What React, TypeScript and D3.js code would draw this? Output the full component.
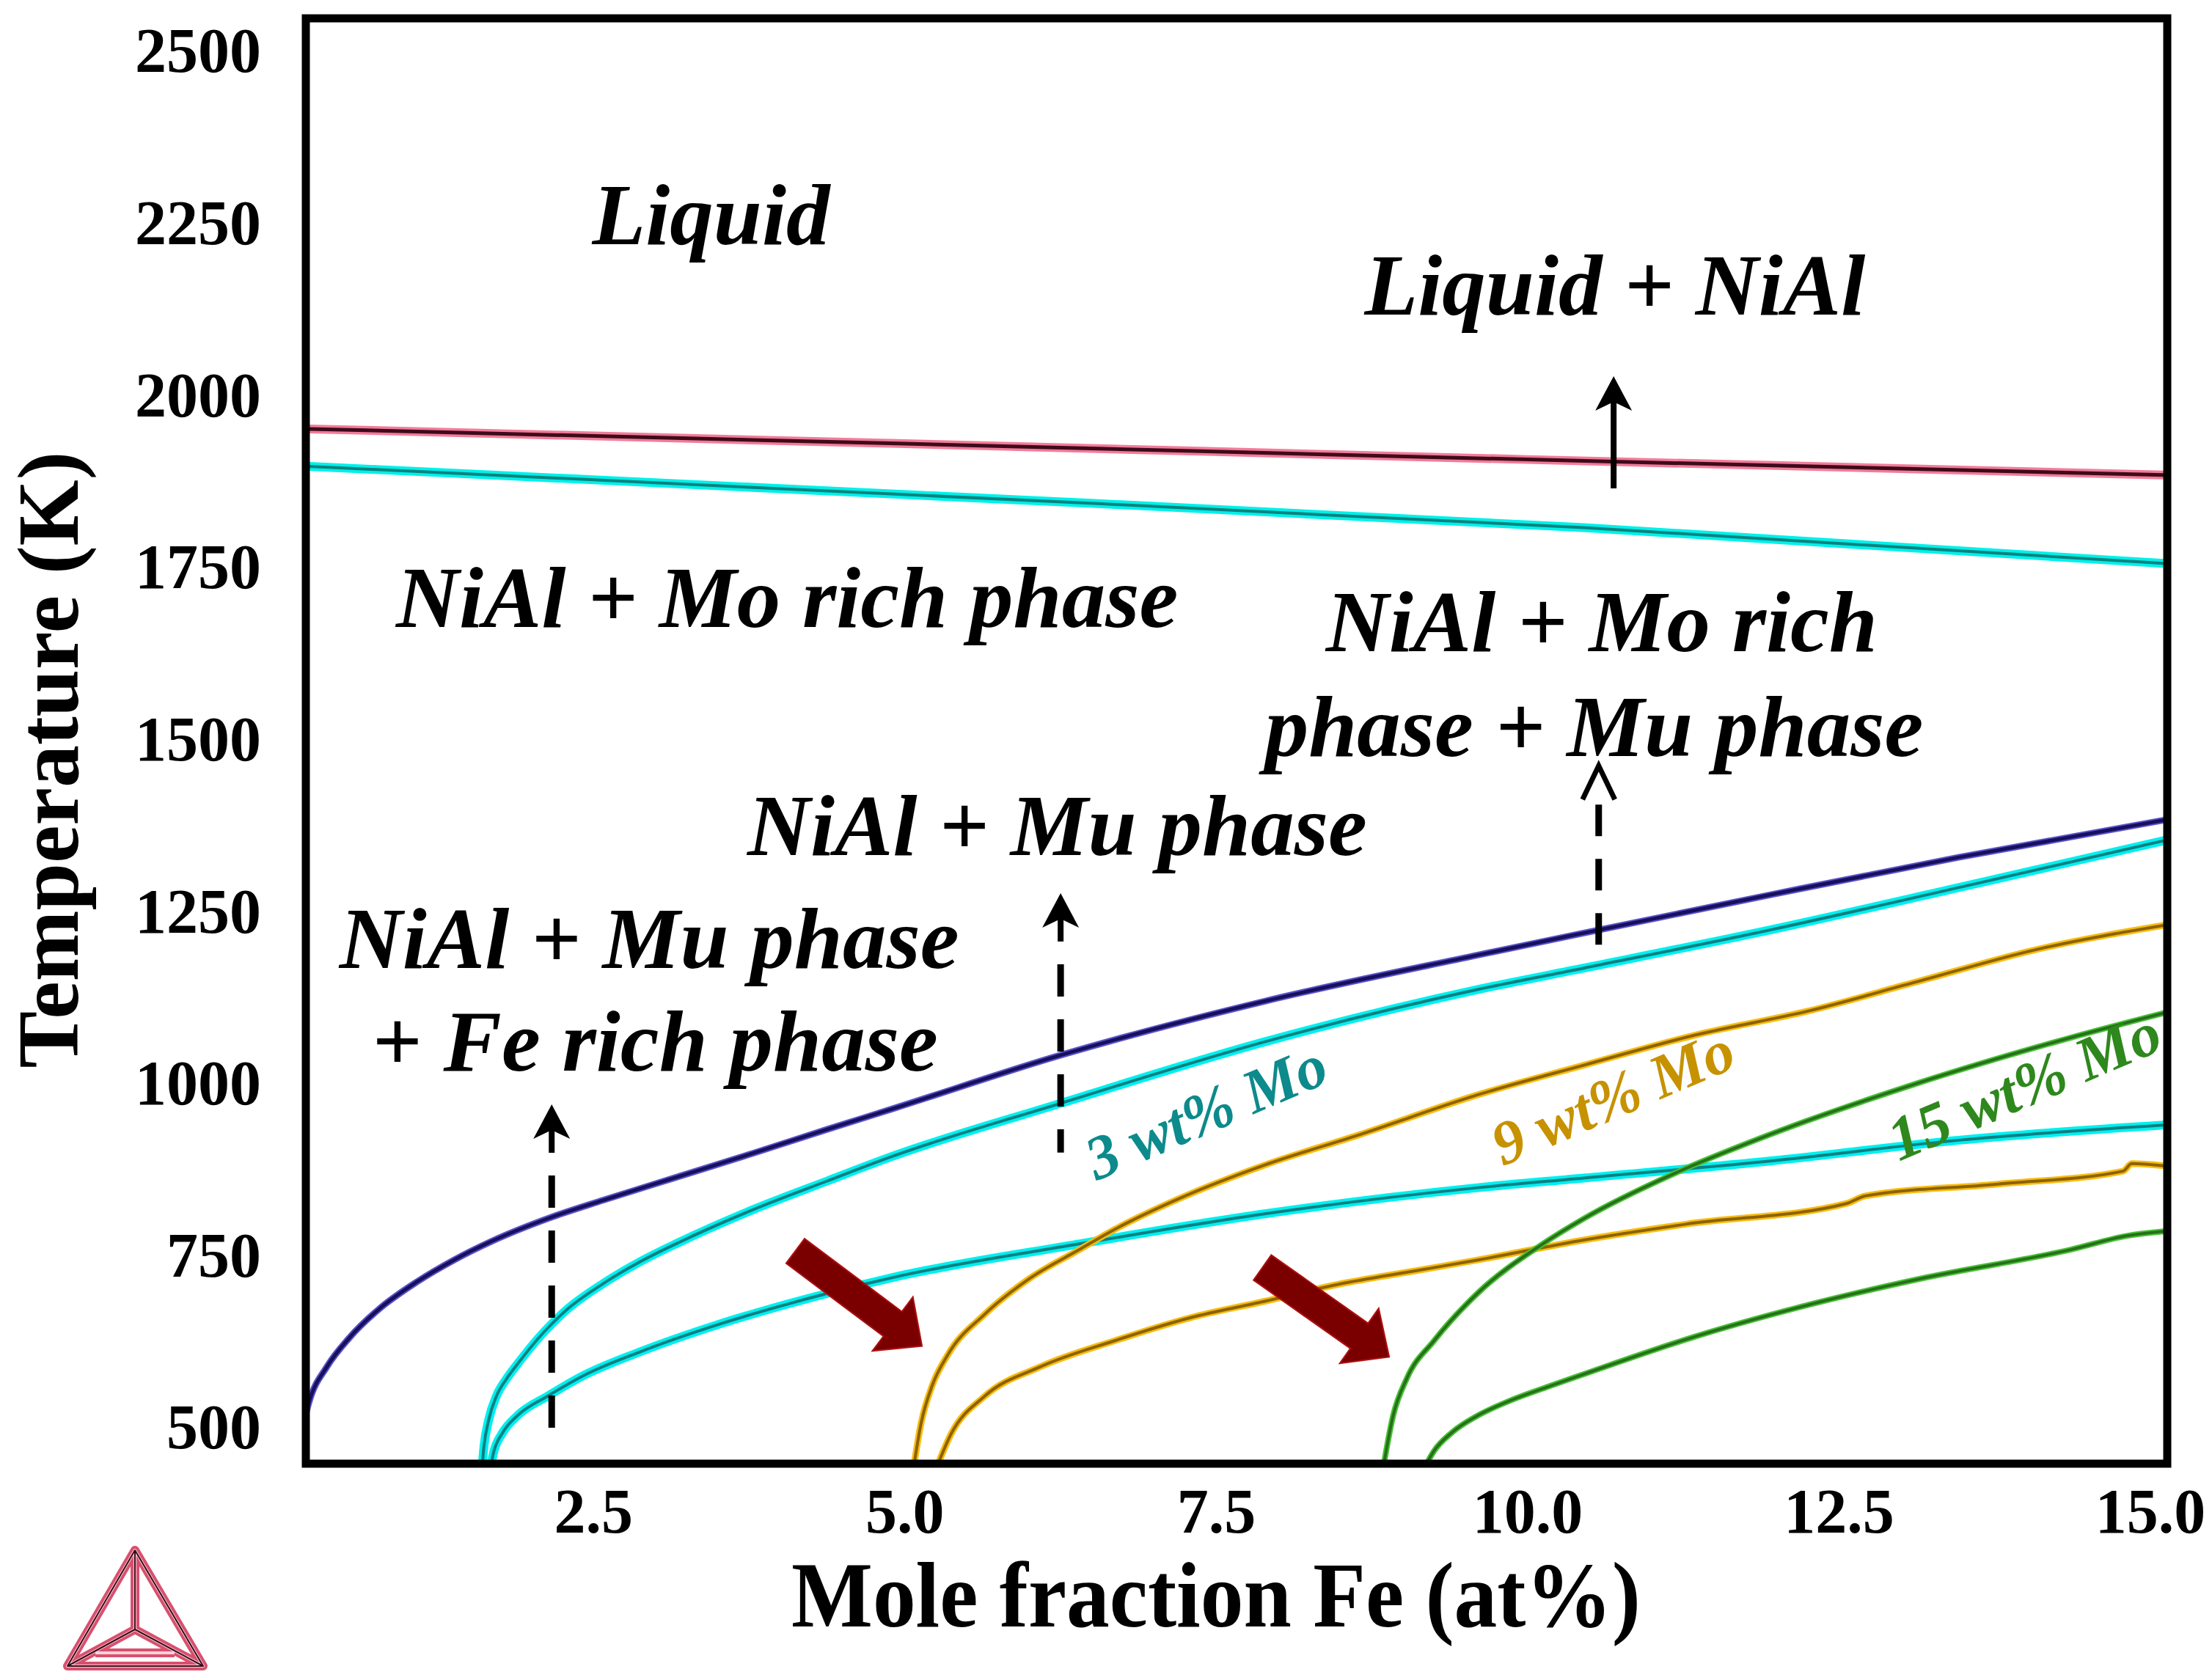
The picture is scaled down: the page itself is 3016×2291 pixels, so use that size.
import React from 'react';
import * as d3 from 'd3';

const W = 3016;
const H = 2291;

// axis setup
const xDomain = [0.19, 15.135];
const yDomain = [447, 2547];
const xTicks = [2.5, 5.0, 7.5, 10.0, 12.5, 15.0];
const yTicks = [500, 750, 1000, 1250, 1500, 1750, 2000, 2250, 2500];

// phase boundaries, [mole fraction Fe (at%), T (K)]
const liquidus = [[0.1, 1951], [5, 1929], [10, 1906], [15.2, 1883]];
const liquidus3Mo = [[0.1, 1897], [4.89, 1856], [10.45, 1807], [15.2, 1754]];
const muSolvus = [
  [0.17, 505], [0.22, 539], [0.36, 588], [0.54, 630], [0.78, 672], [1.08, 711],
  [1.38, 743], [1.68, 770], [2.16, 805], [2.58, 830], [3.18, 864], [3.78, 898],
  [4.38, 933], [4.89, 962], [6.24, 1040], [7.89, 1119], [9.6, 1186], [10.45, 1218],
  [11.96, 1274], [13.46, 1328], [15.2, 1385]
];
const mo3Upper = [
  [1.6, 430], [1.62, 472], [1.66, 512], [1.72, 545], [1.8, 570], [1.89, 592],
  [2.1, 638], [2.28, 670], [2.58, 709], [2.88, 741], [3.18, 768], [3.78, 816],
  [4.38, 858], [4.89, 893], [6.24, 970], [7.89, 1060], [9.6, 1136], [10.45, 1167],
  [11.96, 1223], [13.46, 1284], [15.2, 1356]
];
const mo3Lower = [
  [1.66, 430], [1.7, 465], [1.77, 492], [1.89, 517], [2.13, 545], [2.43, 576],
  [2.88, 610], [3.48, 648], [4.08, 680], [4.68, 708], [4.89, 717], [6.39, 766],
  [7.89, 810], [9.6, 848], [10.45, 862], [11.96, 887], [13.46, 917], [15.2, 940]
];
const mo9Upper = [
  [5.06, 430], [5.13, 506], [5.22, 561], [5.34, 604], [5.64, 664], [6.0, 716],
  [6.39, 757], [6.69, 788], [7.2, 832], [7.89, 881], [8.65, 925], [9.6, 983],
  [10.45, 1026], [11.35, 1070], [12.26, 1105], [13.1, 1146], [14.06, 1193], [15.2, 1232]
];
const mo9Lower = [
  [5.23, 430], [5.37, 490], [5.64, 545], [6.09, 588], [6.69, 626], [7.29, 659],
  [7.89, 683], [8.49, 708], [9.09, 727], [9.6, 743], [10.45, 772], [11.27, 795],
  [12.56, 825], [12.71, 836], [13.76, 853], [14.78, 872], [14.85, 883], [15.2, 878]
];
const mo15Upper = [
  [8.83, 430], [8.92, 517], [9.03, 571], [9.25, 626], [9.6, 695], [10.11, 765],
  [10.45, 803], [11.17, 868], [11.87, 920], [13.1, 998], [14.36, 1066], [15.2, 1106]
];
const mo15Lower = [
  [9.14, 430], [9.25, 466], [9.39, 492], [9.6, 517], [9.85, 538], [10.15, 558],
  [10.45, 577], [11.35, 632], [12.26, 678], [13.16, 716], [14.36, 758],
  [14.81, 778], [15.2, 786]
];

const series = [
  { data: liquidus, halo: '#f27c98', core: '#3e0a1c', hw: 12, cw: 5 },
  { data: liquidus3Mo, halo: '#00f0ea', core: '#08827e', hw: 12, cw: 4 },
  { data: muSolvus, halo: '#5a52c8', core: '#16105e', hw: 9, cw: 5 },
  { data: mo3Upper, halo: '#00efef', core: '#0a7f82', hw: 12, cw: 4 },
  { data: mo3Lower, halo: '#00efef', core: '#0a7f82', hw: 12, cw: 4 },
  { data: mo9Upper, halo: '#f6bd10', core: '#8e6200', hw: 9, cw: 4 },
  { data: mo9Lower, halo: '#f6bd10', core: '#8e6200', hw: 9, cw: 4 },
  { data: mo15Upper, halo: '#48c236', core: '#27701a', hw: 8, cw: 4 },
  { data: mo15Lower, halo: '#48c236', core: '#27701a', hw: 8, cw: 4 }
];

// region labels (left edge of baseline, data units)
const regionLabels = [
  { text: 'Liquid', x: 2.49, t: 2219 },
  { text: 'Liquid + NiAl', x: 8.69, t: 2117 },
  { text: 'NiAl + Mo rich phase', x: 0.915, t: 1663 },
  { text: 'NiAl + Mo rich', x: 8.38, t: 1627 },
  { text: 'phase + Mu phase', x: 7.89, t: 1475 },
  { text: 'NiAl + Mu phase', x: 3.735, t: 1331 },
  { text: 'NiAl + Mu phase', x: 0.46, t: 1167 },
  { text: '+ Fe rich phase', x: 0.72, t: 1018 }
];

const moLabels = [
  { text: '3 wt% Mo', x: 6.54, t: 858, color: '#0d8a8c', len: 348 },
  { text: '9 wt% Mo', x: 9.8, t: 879, color: '#c79200', len: 350 },
  { text: '15 wt% Mo', x: 12.98, t: 886, color: '#2e881d', len: 395 }
];

// black arrows pointing up: x, tip temperature, tail temperature
const upArrows = [
  { x: 10.69, tip: 2027, end: 1864, head: 'filled', dashed: false },
  { x: 10.57, tip: 1461, end: 1200, head: 'chevron', dashed: true },
  { x: 6.25, tip: 1276, end: 899, head: 'filled', dashed: true },
  { x: 2.164, tip: 969, end: 499, head: 'filled', dashed: true }
];

// fat red arrows: tail -> tip
const redArrows = [
  { from: [4.12, 756], to: [5.137, 618] },
  { from: [7.87, 732], to: [8.888, 602] }
];

const serif = "'Liberation Serif', 'Times New Roman', serif";

function blockArrow(x0, y0, x1, y1) {
  const dx = x1 - x0, dy = y1 - y0;
  const len = Math.hypot(dx, dy);
  const ux = dx / len, uy = dy / len;
  const nx = -uy, ny = ux;
  const sw = 21, hw = 46, hl = 50;
  const bx = x1 - ux * hl, by = y1 - uy * hl;
  const pts = [
    [x0 + nx * sw, y0 + ny * sw],
    [bx + nx * sw, by + ny * sw],
    [bx + nx * hw, by + ny * hw],
    [x1, y1],
    [bx - nx * hw, by - ny * hw],
    [bx - nx * sw, by - ny * sw],
    [x0 - nx * sw, y0 - ny * sw]
  ];
  return 'M' + pts.map(p => p.join(',')).join('L') + 'Z';
}

export default function App() {
  const left = 417, right = 2955, top = 25, bottom = 1996;
  const xScale = d3.scaleLinear().domain(xDomain).range([left, right]);
  const yScale = d3.scaleLinear().domain(yDomain).range([bottom, top]);
  const line = d3.line()
    .x(d => xScale(d[0]))
    .y(d => yScale(d[1]))
    .curve(d3.curveMonotoneX);

  return (
    <svg width={W} height={H} style={{ position: 'absolute', left: 0, top: 0, background: '#fff' }}>
      <defs>
        <clipPath id="plotClip">
          <rect x={left + 5} y={top + 5} width={right - left - 10} height={bottom - top - 10} />
        </clipPath>
      </defs>
      <rect x={0} y={0} width={W} height={H} fill="#fff" />

      {/* curves */}
      <g clipPath="url(#plotClip)" fill="none" strokeLinejoin="round" strokeLinecap="round">
        {series.map((s, i) => (
          <g key={i}>
            <path d={line(s.data)} stroke={s.halo} strokeWidth={s.hw} />
            <path d={line(s.data)} stroke={s.core} strokeWidth={s.cw} />
          </g>
        ))}
      </g>

      {/* frame */}
      <rect x={left} y={top} width={right - left} height={bottom - top}
        fill="none" stroke="#000" strokeWidth={11} />

      {/* y ticks */}
      {yTicks.map(t => (
        <text key={t} x={356} y={yScale(t)} dy="0.34em" textAnchor="end"
          fontFamily={serif} fontWeight="bold" fontSize={86}>{t}</text>
      ))}
      {/* x ticks */}
      {xTicks.map(v => (
        <text key={v} x={xScale(v)} y={2090} textAnchor="middle"
          fontFamily={serif} fontWeight="bold" fontSize={86}>{d3.format('.1f')(v)}</text>
      ))}

      {/* axis titles */}
      <text x={1658} y={2218} textAnchor="middle" fontFamily={serif} fontWeight="bold"
        fontSize={126} textLength={1158} lengthAdjust="spacingAndGlyphs">Mole fraction Fe (at%)</text>
      <text transform="translate(106,1036) rotate(-90)" textAnchor="middle" fontFamily={serif}
        fontWeight="bold" fontSize={118} textLength={841} lengthAdjust="spacingAndGlyphs">Temperature (K)</text>

      {/* region labels */}
      {regionLabels.map((l, i) => (
        <text key={i} x={xScale(l.x)} y={yScale(l.t)} fontFamily={serif} fontWeight="bold"
          fontStyle="italic" fontSize={119} fill="#000">{l.text}</text>
      ))}

      {/* Mo content labels */}
      {moLabels.map((l, i) => {
        const px = xScale(l.x), py = yScale(l.t);
        return (
          <text key={i} x={px} y={py} transform={`rotate(-23,${px},${py})`} fontFamily={serif}
            fontWeight="bold" fontStyle="italic" fontSize={84} fill={l.color}
            textLength={l.len} lengthAdjust="spacingAndGlyphs">{l.text}</text>
        );
      })}

      {/* black arrows */}
      {upArrows.map((a, i) => {
        const px = xScale(a.x), tipY = yScale(a.tip), endY = yScale(a.end);
        if (a.head === 'chevron') {
          return (
            <g key={i}>
              <polyline points={`${px - 22},${tipY + 46} ${px},${tipY} ${px + 22},${tipY + 46}`}
                fill="none" stroke="#000" strokeWidth={7} />
              <line x1={px} x2={px} y1={tipY + 53} y2={endY} stroke="#000" strokeWidth={9}
                strokeDasharray="43 31" />
            </g>
          );
        }
        return (
          <g key={i}>
            <path d={`M${px},${tipY} L${px + 25},${tipY + 47} L${px},${tipY + 35} L${px - 25},${tipY + 47} Z`}
              fill="#000" />
            <line x1={px} x2={px} y1={tipY + 30} y2={a.dashed ? tipY + 66 : endY} stroke="#000" strokeWidth={8} />
            {a.dashed && (
              <line x1={px} x2={px} y1={tipY + 97} y2={endY} stroke="#000" strokeWidth={9}
                strokeDasharray="44 31" />
            )}
          </g>
        );
      })}

      {/* red arrows */}
      {redArrows.map((a, i) => (
        <path key={i}
          d={blockArrow(xScale(a.from[0]), yScale(a.from[1]), xScale(a.to[0]), yScale(a.to[1]))}
          fill="#7a0000" stroke="#b01010" strokeWidth={2} strokeLinejoin="miter" />
      ))}

      {/* Thermo-Calc logo */}
      <g fill="none" strokeLinejoin="round">
        {[['#d8506e', 12], ['#f8d0da', 4]].map(([c, w], i) => (
          <g key={i} stroke={c} strokeWidth={w}>
            <path d="M184,2114 L92,2272 L277,2272 Z" />
            <path d="M184,2114 L184,2222 M92,2272 L184,2222 L277,2272" />
            <path d="M130,2254 L238,2254" />
          </g>
        ))}
        <g stroke="#3a0c1a" strokeWidth={2}>
          <path d="M184,2114 L92,2272 L277,2272 Z" />
          <path d="M184,2114 L184,2222 M92,2272 L184,2222 L277,2272" />
        </g>
      </g>
    </svg>
  );
}
